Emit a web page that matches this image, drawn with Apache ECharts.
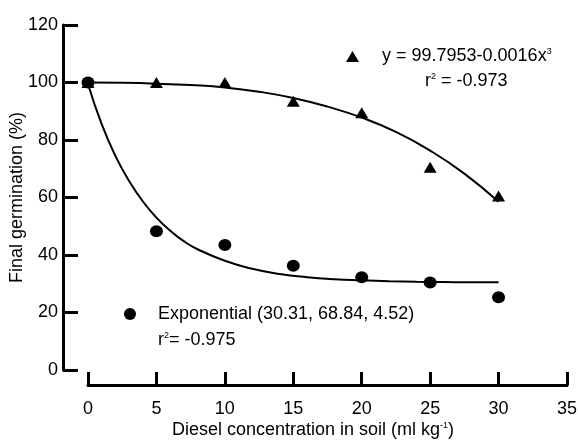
<!DOCTYPE html>
<html>
<head>
<meta charset="utf-8">
<script src="https://cdn.jsdelivr.net/npm/echarts@6/dist/echarts.min.js"></script>
<style>
  html, body { margin: 0; padding: 0; background: #fff; }
  #main { width: 578px; height: 442px; }
</style>
</head>
<body>
<div id="main"></div>
<script>
// measured points
var conc = [0, 5, 10, 15, 20, 25, 30];
var cubicObs = [100, 100, 100, 93.5, 89.5, 70.5, 60.5];
var expObs = [100, 48.3, 43.5, 36.3, 32.3, 30.4, 25.3];

// fitted curves
var cubicFitX = [0, 2.5, 5, 7.5, 10, 12.5, 15, 17.5, 20, 22.5, 25, 27.5, 30];
var cubicFitY = [100, 99.9, 99.6, 99.1, 98.3, 96.8, 94.6, 91.6, 87.8, 82.8, 76.3, 68.3, 58.5];
var expFitX = [0, 1, 2, 3, 4, 5, 6, 7, 8, 10, 12, 14, 16, 18, 20, 22, 24, 26, 28, 30];
var expFitY = [99.5, 85.5, 74.5, 65.8, 58.7, 53, 48.5, 44.8, 42, 38, 35.2, 33.4, 32.3, 31.6, 31.2, 30.9, 30.7, 30.6, 30.5, 30.5];

var xTicks = [0, 5, 10, 15, 20, 25, 30, 35];
var yTicks = [0, 20, 40, 60, 80, 100, 120];

function pairs(xs, ys) {
    return xs.map(function (x, i) { return [x, ys[i]]; });
}

var FONT = "'Liberation Sans', Arial, sans-serif";
var FS = 18;
var sup = { fontSize: 9, fontFamily: FONT, color: '#000', verticalAlign: 'top', lineHeight: 19 };
var supG = { fontSize: 9, fontFamily: FONT, fill: '#000', verticalAlign: 'top', lineHeight: 19 };

var myChart = echarts.init(document.getElementById('main'));

var option = {
    animation: false,
    backgroundColor: '#fff',
    textStyle: { fontFamily: FONT, color: '#000' },
    grid: {
        left: 88,
        right: 11,
        top: 25,
        bottom: 72,
        outerBoundsMode: 'none'
    },
    xAxis: {
        type: 'value',
        min: xTicks[0],
        max: xTicks[xTicks.length - 1],
        interval: 5,
        offset: 15,
        axisLine: { onZero: false, lineStyle: { color: '#000', width: 3 } },
        axisTick: { inside: true, length: 13, lineStyle: { color: '#000', width: 3 } },
        axisLabel: { fontSize: FS, fontFamily: FONT, color: '#000', margin: 15 },
        splitLine: { show: false },
        name: 'Diesel concentration in soil (ml kg{sup|-1})',
        nameLocation: 'middle',
        nameGap: 36,
        nameMoveOverlap: false,
        nameTextStyle: {
            fontSize: FS, fontFamily: FONT, color: '#000',
            padding: [0, 29, 0, 0],
            rich: { sup: sup }
        }
    },
    yAxis: {
        type: 'value',
        min: yTicks[0],
        max: yTicks[yTicks.length - 1],
        interval: 20,
        offset: 25,
        axisLine: { show: true, onZero: false, lineStyle: { color: '#000', width: 3 } },
        axisTick: { show: true, inside: true, length: 15, lineStyle: { color: '#000', width: 3 } },
        axisLabel: { fontSize: FS, fontFamily: FONT, color: '#000', margin: 5 },
        splitLine: { show: false },
        name: 'Final germination (%)',
        nameLocation: 'middle',
        nameGap: 37,
        nameMoveOverlap: false,
        nameTextStyle: { fontSize: FS, fontFamily: FONT, color: '#000' }
    },
    legend: [{
        data: [{ name: 'triangles', icon: 'triangle' }],
        left: 341,
        top: 42,
        itemWidth: 13,
        itemHeight: 11,
        selectedMode: false,
        formatter: function () { return 'y = 99.7953-0.0016x{sup|3}'; },
        textStyle: {
            fontSize: FS, fontFamily: FONT, color: '#000',
            padding: [0, 0, 0, 18],
            rich: { sup: sup }
        }
    }, {
        data: [{ name: 'circles', icon: 'circle' }],
        left: 119,
        top: 300,
        itemWidth: 12,
        itemHeight: 12,
        selectedMode: false,
        formatter: function () { return 'Exponential (30.31, 68.84, 4.52)'; },
        textStyle: {
            fontSize: FS, fontFamily: FONT, color: '#000',
            padding: [0, 0, 0, 17]
        }
    }],
    graphic: [{
        type: 'text',
        left: 425,
        top: 72,
        style: {
            text: 'r{sup|2} = -0.973',
            fontSize: FS, fontFamily: FONT, fill: '#000',
            rich: { sup: supG }
        }
    }, {
        type: 'text',
        left: 158,
        top: 331,
        style: {
            text: 'r{sup|2}= -0.975',
            fontSize: FS, fontFamily: FONT, fill: '#000',
            rich: { sup: supG }
        }
    }],
    series: [{
        name: 'cubic fit',
        type: 'line',
        data: pairs(cubicFitX, cubicFitY),
        smooth: true,
        showSymbol: false,
        silent: true,
        lineStyle: { color: '#000', width: 2 },
        z: 2
    }, {
        name: 'exp fit',
        type: 'line',
        data: pairs(expFitX, expFitY),
        smooth: true,
        showSymbol: false,
        silent: true,
        lineStyle: { color: '#000', width: 2 },
        z: 2
    }, {
        name: 'triangles',
        type: 'scatter',
        symbol: 'triangle',
        symbolSize: [13, 11],
        data: pairs(conc, cubicObs),
        itemStyle: { color: '#000', opacity: 1 },
        z: 3
    }, {
        name: 'circles',
        type: 'scatter',
        symbol: 'circle',
        symbolSize: [13, 12],
        data: pairs(conc, expObs),
        itemStyle: { color: '#000', opacity: 1 },
        z: 4
    }]
};
myChart.setOption(option);
</script>
</body>
</html>
